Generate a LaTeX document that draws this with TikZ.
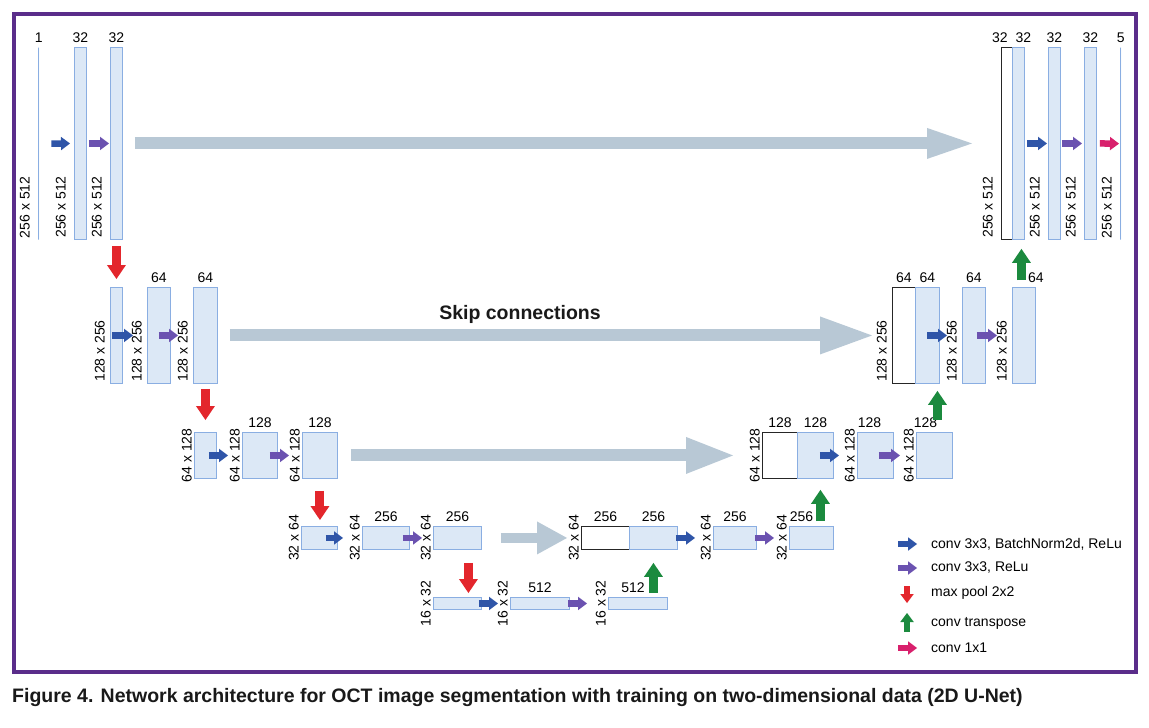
\documentclass[tikz,border=0pt]{standalone}
\usepackage{fontspec}
\setmainfont{Liberation Sans}
\usepackage{tikz}
\usetikzlibrary{arrows.meta}

\definecolor{fmapfill}{HTML}{DCE8F6}
\definecolor{fmapline}{HTML}{8AAEE2}
\definecolor{skipgray}{HTML}{B8C8D5}
\definecolor{convblue}{HTML}{2F55A8}
\definecolor{reluviolet}{HTML}{6B52B0}
\definecolor{poolred}{HTML}{E3262C}
\definecolor{upgreen}{HTML}{1B8A3E}
\definecolor{onexpink}{HTML}{D8206C}
\definecolor{framepurple}{HTML}{5A2D8A}

\newcommand{\numfont}{\fontsize{14}{16}\selectfont}
\newcommand{\capfont}{\fontsize{19.5}{22}\selectfont\bfseries}

\begin{document}
\begin{tikzpicture}[
			x=1pt, y=-1pt,
			fmap/.style={
				draw=fmapline,
				fill=fmapfill,
				line width=0.9pt,
				inner sep=0pt,
				anchor=north west,
			},
			concat/.style={fmap, draw=black!85, fill=white},
			thinmap/.style={fmap, line width=1.3pt, minimum width=0pt},
			lev1/.style={minimum height=192pt},
			lev2/.style={minimum height=96pt},
			lev3/.style={minimum height=46pt},
			lev4/.style={minimum height=23pt},
			lev5/.style={minimum height=12pt},
			every label/.style={
				font=\numfont,
				inner sep=4.5pt
			},
			sz/.style={font=\numfont, rotate=90, inner sep=2pt},
			szb/.style={sz, anchor=south west, yshift=4pt},
			szc/.style={sz, anchor=south},
			op/.style={line width=6.5pt, -{Triangle[length=9pt,width=13.5pt,line width=0pt]}},
			convbn/.style={op, draw=convblue},
			convrelu/.style={op, draw=reluviolet},
			convone/.style={op, draw=onexpink},
			vop/.style={line width=9pt, -{Triangle[length=14pt,width=19pt,line width=0pt]}},
			pool/.style={vop, draw=poolred},
			upconv/.style={vop, draw=upgreen},
			skip/.style 2 args={draw=skipgray, line width=12pt,
				-{Triangle[length=#1,width=#2,line width=0pt]}},
			]
			\useasboundingbox (0,0) rectangle (1149,728);
			\fill[white] (0,0) rectangle (1149,728);
			\draw[framepurple, line width=4pt] (14,14) rectangle (1136,672);
			
			%% level 1
			\node[thinmap, lev1, label=above:1] (l1a) at (38,47) {};
			\node[fmap, lev1, minimum width=12pt, label=above:32] (l1b) at (74,47) {};
			\node[fmap, lev1, minimum width=12pt, label=above:32] (l1c) at (110,47) {};
			\node[concat, lev1, minimum width=11pt, label={[xshift=-7pt]above:32}] (r1a) at (1001,47) {};
			\node[fmap, lev1, minimum width=12pt, label={[xshift=5pt]above:32}] (r1b) at (1012,47) {};
			\node[fmap, lev1, minimum width=12pt, label=above:32] (r1c) at (1048,47) {};
			\node[fmap, lev1, minimum width=12pt, label=above:32] (r1d) at (1084,47) {};
			\node[thinmap, lev1, label=above:5] (r1e) at (1120,47) {};
			\node[szb, yshift=2pt] at (l1a.south west) {256 x 512};
			\node[szb, yshift=2pt] at (l1b.south west) {256 x 512};
			\node[szb, yshift=2pt] at (l1c.south west) {256 x 512};
			\node[szb, yshift=2pt] at (r1a.south west) {256 x 512};
			\node[szb, yshift=2pt] at (r1c.south west) {256 x 512};
			\node[szb, yshift=2pt] at (r1d.south west) {256 x 512};
			\node[szb, yshift=2pt] at (r1e.south west) {256 x 512};
			
			%% level 2
			\node[fmap, lev2, minimum width=12pt] (l2a) at (110,287) {};
			\node[fmap, lev2, minimum width=23pt, label=above:64] (l2b) at (147,287) {};
			\node[fmap, lev2, minimum width=24pt, label=above:64] (l2c) at (193,287) {};
			\node[concat, lev2, minimum width=23pt, label=above:64] (r2a) at (892,287) {};
			\node[fmap, lev2, minimum width=24pt, label=above:64] (r2b) at (915,287) {};
			\node[fmap, lev2, minimum width=23pt, label=above:64] (r2c) at (962,287) {};
			\node[fmap, lev2, minimum width=23pt, label={[xshift=12pt]above:64}] (r2d) at (1012,287) {};
			\node[szb, yshift=-1pt] at (l2a.south west) {128 x 256};
			\node[szb, yshift=-1pt] at (l2b.south west) {128 x 256};
			\node[szb, yshift=-1pt] at (l2c.south west) {128 x 256};
			\node[szb, yshift=-1pt] at (r2a.south west) {128 x 256};
			\node[szb, yshift=-1pt] at (r2c.south west) {128 x 256};
			\node[szb, yshift=-1pt] at (r2d.south west) {128 x 256};
			
			%% level 3
			\node[fmap, lev3, minimum width=22pt] (l3a) at (194,432) {};
			\node[fmap, lev3, minimum width=35pt, label=above:128] (l3b) at (242,432) {};
			\node[fmap, lev3, minimum width=35pt, label=above:128] (l3c) at (302,432) {};
			\node[concat, lev3, minimum width=35pt, label=above:128] (r3a) at (762,432) {};
			\node[fmap, lev3, minimum width=36pt, label=above:128] (r3b) at (797,432) {};
			\node[fmap, lev3, minimum width=36pt, label={[xshift=-6pt]above:128}] (r3c) at (857,432) {};
			\node[fmap, lev3, minimum width=36pt, label={[xshift=-9pt]above:128}] (r3d) at (916,432) {};
			\node[szc] at (l3a.west) {64 x 128};
			\node[szc] at (l3b.west) {64 x 128};
			\node[szc] at (l3c.west) {64 x 128};
			\node[szc] at (r3a.west) {64 x 128};
			\node[szc] at (r3c.west) {64 x 128};
			\node[szc] at (r3d.west) {64 x 128};
			
			%% level 4
			\node[fmap, lev4, minimum width=36pt] (l4a) at (301,526) {};
			\node[fmap, lev4, minimum width=47pt, label=above:256] (l4b) at (362,526) {};
			\node[fmap, lev4, minimum width=48pt, label=above:256] (l4c) at (433,526) {};
			\node[concat, lev4, minimum width=48pt, label=above:256] (r4a) at (581,526) {};
			\node[fmap, lev4, minimum width=48pt, label=above:256] (r4b) at (629,526) {};
			\node[fmap, lev4, minimum width=43pt, label=above:256] (r4c) at (713,526) {};
			\node[fmap, lev4, minimum width=44pt, label={[xshift=-10pt]above:256}] (r4d) at (789,526) {};
			\node[szc] at (l4a.west) {32 x 64};
			\node[szc] at (l4b.west) {32 x 64};
			\node[szc] at (l4c.west) {32 x 64};
			\node[szc] at (r4a.west) {32 x 64};
			\node[szc] at (r4c.west) {32 x 64};
			\node[szc] at (r4d.west) {32 x 64};
			
			%% level 5
			\node[fmap, lev5, minimum width=48pt] (l5a) at (433,597) {};
			\node[fmap, lev5, minimum width=59pt, label=above:512] (l5b) at (510,597) {};
			\node[fmap, lev5, minimum width=59pt, label={[xshift=-5pt]above:512}] (l5c) at (608,597) {};
			\node[szc] at (l5a.west) {16 x 32};
			\node[szc] at (l5b.west) {16 x 32};
			\node[szc] at (l5c.west) {16 x 32};
			
			%% skip connections
			\draw[skip={45pt}{31pt}] ([xshift=12pt]l1c.east) -- ([xshift=-29pt]r1a.west);
			\draw[skip={52pt}{38pt}] ([xshift=12pt]l2c.east) -- ([xshift=-20pt]r2a.west);
			\draw[skip={47pt}{37pt}] ([xshift=13pt]l3c.east) -- ([xshift=-29pt]r3a.west);
			\draw[skip={30pt}{33pt}, line width=10pt] ([xshift=19pt]l4c.east) -- ([xshift=-14pt]r4a.west);
			\node[font=\fontsize{19.5}{22}\selectfont\bfseries, text=black!90] (skiptxt) at (520,314) {Skip connections};
			
			%% convolutions
			\draw[convbn] ([xshift=12pt]l1a.east) -- ([xshift=-4pt]l1b.west);
			\draw[convrelu] ([xshift=2pt]l1b.east) -- ([xshift=-1pt]l1c.west);
			\draw[convbn] ([xshift=2pt]r1b.east) -- ([xshift=-1pt]r1c.west);
			\draw[convrelu] ([xshift=1pt]r1c.east) -- ([xshift=-2pt]r1d.west);
			\draw[convone] ([xshift=3pt]r1d.east) -- ([xshift=-1pt]r1e.west);
			\draw[convbn] ([xshift=2pt]l2a.west) -- ([xshift=-14pt]l2b.west);
			\draw[convrelu] ([xshift=-12pt]l2b.east) -- ([xshift=-15pt]l2c.west);
			\draw[convbn] ([xshift=12pt]r2b.west) -- ([xshift=-15pt]r2c.west);
			\draw[convrelu] ([xshift=-9pt]r2c.east) -- ([xshift=-15pt]r2d.west);
			\draw[convbn] ([xshift=-8pt]l3a.east) -- ([xshift=-14pt]l3b.west);
			\draw[convrelu] ([xshift=-8pt]l3b.east) -- ([xshift=-13pt]l3c.west);
			\draw[convbn] ([xshift=-14pt]r3b.east) -- ([xshift=-18pt]r3c.west);
			\draw[convrelu] ([xshift=-15pt]r3c.east) -- ([xshift=-16pt]r3d.west);
			\draw[convbn] ([xshift=-12pt]l4a.east) -- ([xshift=-19pt]l4b.west);
			\draw[convrelu] ([xshift=-7pt]l4b.east) -- ([xshift=-11pt]l4c.west);
			\draw[convbn] ([xshift=-2pt]r4b.east) -- ([xshift=-18pt]r4c.west);
			\draw[convrelu] ([xshift=-2pt]r4c.east) -- ([xshift=-15pt]r4d.west);
			\draw[convbn] ([xshift=-3pt]l5a.east) -- ([xshift=-12pt]l5b.west);
			\draw[convrelu] ([xshift=-2pt]l5b.east) -- ([xshift=-21pt]l5c.west);
			
			%% max pool
			\draw[pool, shorten <=6pt, shorten >=8pt] (l1c.south -| l2a) -- (l2a.north);
			\draw[pool, shorten <=5pt, shorten >=12pt] (l2c.south) -- (l2c.south |- l3a.north);
			\draw[pool, shorten <=12pt, shorten >=6pt] (l3c.south) -- (l3c.south |- l4a.north);
			\coordinate (p4) at ([xshift=11pt]l4c.south);
			\draw[pool, shorten <=13pt, shorten >=4pt] (p4) -- (p4 |- l5a.north);
			
			%% conv transpose
			\draw[upconv, shorten <=4pt, shorten >=13pt] (l5c.north -| r4b) -- (r4b.south);
			\coordinate (u2) at ([xshift=5pt]r3b.south);
			\draw[upconv, shorten <=5pt, shorten >=11pt] (r4d.north -| u2) -- (u2);
			\coordinate (u3) at ([xshift=10pt]r2b.south);
			\draw[upconv, shorten <=12pt, shorten >=7pt] (r3d.north -| u3) -- (u3);
			\coordinate (u4) at ([xshift=3pt]r1b.south);
			\draw[upconv, shorten <=7pt, shorten >=9pt] (r2d.north -| u4) -- (u4);
			
			%% legend
			\node[font=\numfont, anchor=west, inner sep=0pt] (lg1) at (931,544) {conv 3x3, BatchNorm2d, ReLu};
			\node[font=\numfont, anchor=west, inner sep=0pt] (lg2) at (931,568) {conv 3x3, ReLu};
			\node[font=\numfont, anchor=west, inner sep=0pt] (lg3) at (931,593) {max pool 2x2};
			\node[font=\numfont, anchor=west, inner sep=0pt] (lg4) at (931,623) {conv transpose};
			\node[font=\numfont, anchor=west, inner sep=0pt] (lg5) at (931,648) {conv 1x1};
			\draw[convbn] ([xshift=-33pt]lg1.west) -- ([xshift=-14pt]lg1.west);
			\draw[convrelu] ([xshift=-33pt]lg2.west) -- ([xshift=-14pt]lg2.west);
			\draw[op, draw=poolred] ([xshift=-24pt,yshift=7pt]lg3.west) -- ([xshift=-24pt,yshift=-10pt]lg3.west);
			\draw[op, draw=upgreen] ([xshift=-24pt,yshift=-9pt]lg4.west) -- ([xshift=-24pt,yshift=10pt]lg4.west);
			\draw[convone] ([xshift=-33pt]lg5.west) -- ([xshift=-14pt]lg5.west);
			
			%% caption
			\node[font=\capfont, text=black!90, anchor=west, inner sep=0pt] (cap) at (12,697)
			{Figure 4. Network architecture for OCT image segmentation with training on two-dimensional data (2D U-Net)};
		\end{tikzpicture}
\end{document}
